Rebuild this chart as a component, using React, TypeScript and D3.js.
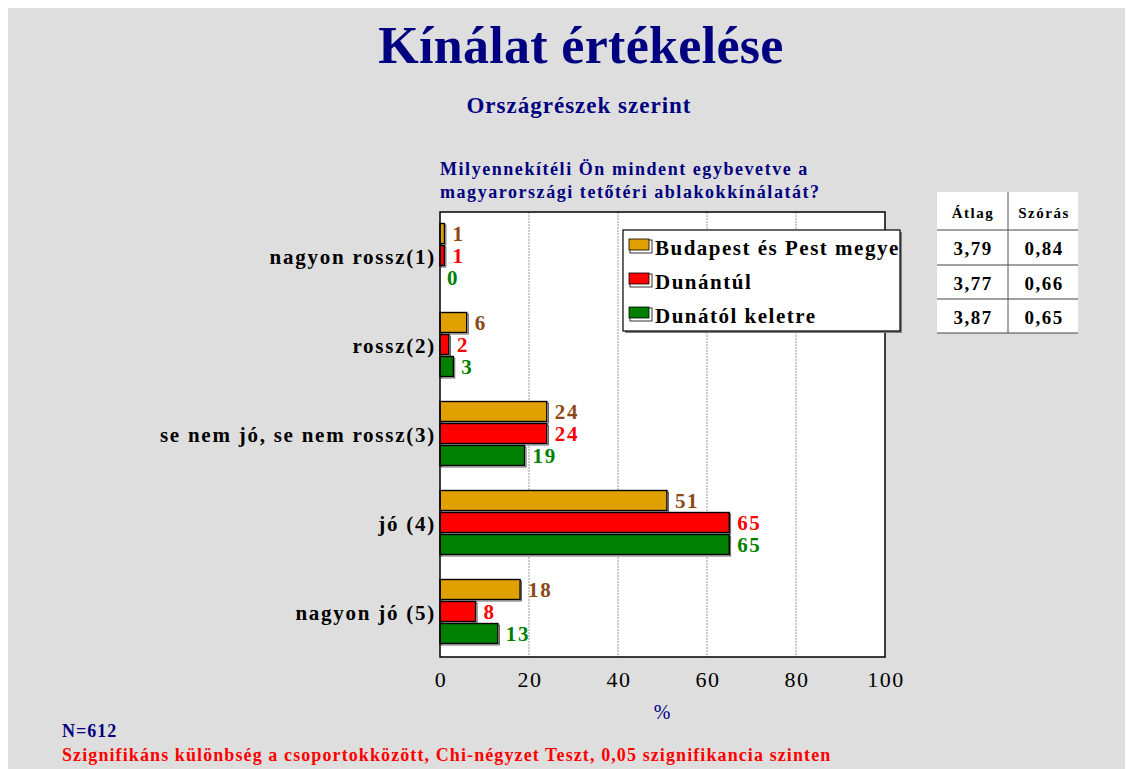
import React from "react";
import * as d3 from "d3";

const categories = ["nagyon rossz(1)", "rossz(2)", "se nem jó, se nem rossz(3)", "jó (4)", "nagyon jó (5)"];
const seriesNames = ["Budapest és Pest megye", "Dunántúl", "Dunától keletre"];
const budapest = [1, 6, 24, 51, 18];
const dunantul = [1, 2, 24, 65, 8];
const keletre = [0, 3, 19, 65, 13];
const xTicks = [0, 20, 40, 60, 80, 100];
const tableHeader = ["Átlag", "Szórás"];
const atlag = ["3,79", "3,77", "3,87"];
const szoras = ["0,84", "0,66", "0,65"];

const fills = ["#e0a000", "#ff0000", "#008000"];
const labelColors = ["#8b4a14", "#ff0000", "#008000"];
const serif = "'Liberation Serif', 'Times New Roman', serif";

export default function App() {
  const W = 1117, H = 761;
  const ox = 8, oy = 8; // page offset
  const left = 440 - ox, right = 885 - ox, top = 212 - oy, bottom = 657 - oy;
  const x = d3.scaleLinear().domain([0, 100]).range([left, right]);
  const y0 = d3.scaleBand<string>().domain(categories).range([top, bottom]);
  const y1 = d3.scaleBand<string>().domain(seriesNames).range([0, 66]);
  const series = [budapest, dunantul, keletre];
  const bh = 20;

  return (
    <svg width={W} height={H} style={{ position: "fixed", left: ox, top: oy, display: "block" }} fontFamily={serif}>
      <defs>
        <clipPath id="legclip">
          <rect x={623 - ox} y={230 - oy} width={277} height={101} />
        </clipPath>
      </defs>
      <rect x={0} y={0} width={W} height={H} fill="#dedede" />
      <text x={581 - ox} y={63 - oy} textAnchor="middle" fontSize={52} fontWeight="bold" fill="#000080" letterSpacing={0.3}>Kínálat értékelése</text>
      <text x={579 - ox} y={113 - oy} textAnchor="middle" fontSize={23} fontWeight="bold" fill="#000080" letterSpacing={1}>Országrészek szerint</text>
      <text x={440 - ox} y={175 - oy} fontSize={18} fontWeight="bold" fill="#000080" letterSpacing={1.55}>Milyennekítéli Ön mindent egybevetve a</text>
      <text x={440 - ox} y={198 - oy} fontSize={18} fontWeight="bold" fill="#000080" letterSpacing={1.55}>magyarországi tetőtéri ablakokkínálatát?</text>

      {/* plot area */}
      <rect x={left} y={top} width={right - left} height={bottom - top} fill="#ffffff" />
      {xTicks.slice(1, -1).map((t) => (
        <line key={t} x1={x(t)} x2={x(t)} y1={top} y2={bottom} stroke="#999" strokeWidth={1} strokeDasharray="2,1" />
      ))}

      {categories.map((c, ci) => {
        const gy = (y0(c) as number) + (y0.bandwidth() - 66) / 2;
        return (
          <g key={c}>
            {series.map((vals, si) => {
              const by = gy + (y1(seriesNames[si]) as number);
              const w = x(vals[ci]) - x(0);
              return (
                <g key={si}>
                  {vals[ci] > 0 && (
                    <>
                      <rect x={x(0) + 1.5} y={by + 1.5} width={w} height={bh} fill="#ffffff" stroke="#000" strokeWidth={0.6} />
                      <rect x={x(0)} y={by} width={w} height={bh} fill={fills[si]} stroke="#000" strokeWidth={1.4} />
                    </>
                  )}
                  <text x={x(vals[ci]) + (vals[ci] > 0 ? 8 : 7)} y={by + bh / 2 + 7.5} fontSize={21} fontWeight="bold" fill={labelColors[si]} letterSpacing={1.6}>{vals[ci]}</text>
                </g>
              );
            })}
            <text x={436 - ox} y={(y0(c) as number) + y0.bandwidth() / 2 + 7} textAnchor="end" fontSize={21} fontWeight="bold" fill="#000" letterSpacing={1.75}>{c}</text>
          </g>
        );
      })}

      <rect x={left} y={top} width={right - left} height={bottom - top} fill="none" stroke="#000" strokeWidth={1.5} />

      {xTicks.map((t) => (
        <text key={t} x={x(t) + 1} y={687 - oy} textAnchor="middle" fontSize={22} fill="#000" letterSpacing={1.5}>{t}</text>
      ))}
      <text x={662 - ox} y={719 - oy} textAnchor="middle" fontSize={20} fill="#000080">%</text>

      {/* legend */}
      <rect x={625 - ox} y={232 - oy} width={277} height={101} fill="#808080" />
      <rect x={623 - ox} y={230 - oy} width={277} height={101} fill="#fff" />
      <g clipPath="url(#legclip)">
        {seriesNames.map((s, i) => (
          <g key={s}>
            <rect x={630 - ox} y={240 + i * 34 - oy} width={22} height={13} fill="#fff" stroke="#000" strokeWidth={0.8} />
            <rect x={629 - ox} y={239 + i * 34 - oy} width={20} height={11} fill={fills[i]} stroke="#000" strokeWidth={0.8} />
            <text x={655 - ox} y={255 + i * 34 - oy} fontSize={21} fontWeight="bold" fill="#000" letterSpacing={1.5}>{s}</text>
          </g>
        ))}
      </g>
      <rect x={623 - ox} y={230 - oy} width={277} height={101} fill="none" stroke="#000" strokeWidth={1.2} />

      {/* table */}
      <rect x={937 - ox} y={192 - oy} width={141} height={141} fill="#fff" />
      <line x1={1008 - ox} x2={1008 - ox} y1={192 - oy} y2={333 - oy} stroke="#555" strokeWidth={1} />
      {[230, 265, 299, 333].map((ly) => (
        <line key={ly} x1={937 - ox} x2={1078 - ox} y1={ly - oy} y2={ly - oy} stroke="#444" strokeWidth={1.2} />
      ))}
      <text x={973 - ox} y={218 - oy} textAnchor="middle" fontSize={15} fontWeight="bold" letterSpacing={1.5}>{tableHeader[0]}</text>
      <text x={1044 - ox} y={218 - oy} textAnchor="middle" fontSize={15} fontWeight="bold" letterSpacing={1.5}>{tableHeader[1]}</text>
      {atlag.map((a, i) => (
        <g key={i}>
          <text x={973 - ox} y={255 + i * 34.5 - oy} textAnchor="middle" fontSize={19} fontWeight="bold" letterSpacing={1.5}>{a}</text>
          <text x={1044 - ox} y={255 + i * 34.5 - oy} textAnchor="middle" fontSize={19} fontWeight="bold" letterSpacing={1.5}>{szoras[i]}</text>
        </g>
      ))}

      <text x={62 - ox} y={737 - oy} fontSize={18} fontWeight="bold" fill="#000080" letterSpacing={1}>N=612</text>
      <text x={62 - ox} y={761 - oy} fontSize={18} fontWeight="bold" fill="#ff0000" letterSpacing={1.1}>Szignifikáns különbség a csoportokközött, Chi-négyzet Teszt, 0,05 szignifikancia szinten</text>
    </svg>
  );
}
